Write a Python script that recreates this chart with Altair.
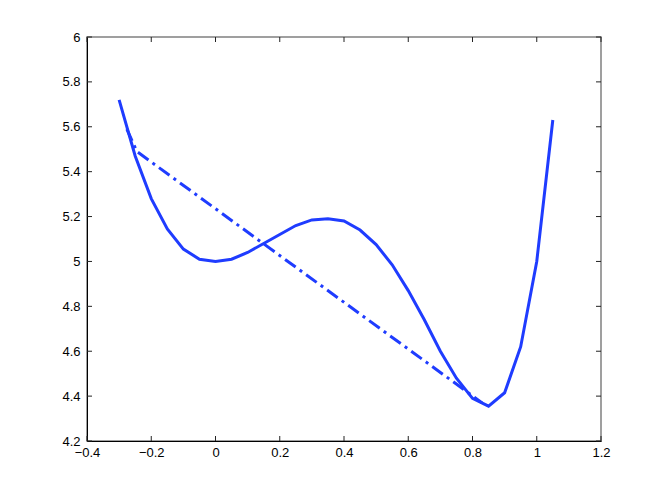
import altair as alt
import pandas as pd

# Solid curve
curve_x = [-0.3, -0.25, -0.2, -0.15, -0.1, -0.05, 0.0, 0.05, 0.1, 0.15, 0.2, 0.25, 0.3, 0.35,
           0.4, 0.45, 0.5, 0.55, 0.6, 0.65, 0.7, 0.75, 0.8, 0.85, 0.9, 0.95, 1.0, 1.05]
curve_y = [5.72, 5.47, 5.28, 5.145, 5.055, 5.01, 5.0, 5.01, 5.04, 5.08, 5.12, 5.16, 5.185, 5.19,
           5.18, 5.14, 5.075, 4.985, 4.87, 4.74, 4.6, 4.48, 4.39, 4.355, 4.415, 4.62, 5.0, 5.63]

# Dash-dot line
dash_x = [-0.276, -0.245, 0.83]
dash_y = [5.59, 5.49, 4.37]

x_ticks = [-0.4, -0.2, 0, 0.2, 0.4, 0.6, 0.8, 1.0, 1.2]
y_ticks = [4.2, 4.4, 4.6, 4.8, 5.0, 5.2, 5.4, 5.6, 5.8, 6.0]

W, H = 514, 404
BLUE = "#1f3cff"

xscale = alt.Scale(domain=[-0.4, 1.2], nice=False, zero=False)
yscale = alt.Scale(domain=[4.2, 6.0], nice=False, zero=False)

df_curve = pd.DataFrame({"x": curve_x, "y": curve_y, "o": range(len(curve_x))})
df_dash = pd.DataFrame({"x": dash_x, "y": dash_y, "o": range(len(dash_x))})
df_xt = pd.DataFrame({"v": x_ticks})
df_yt = pd.DataFrame({"v": y_ticks})

axis_common = dict(
    ticks=False, tickSize=0, grid=False, domainColor="black", domainWidth=1,
    labelColor="black", labelFont="Liberation Sans", labelFontSize=13,
    title=None, format="~g",
    labelExpr="replace(datum.label, '-', '\u2212')",
)

curve = alt.Chart(df_curve).mark_line(color=BLUE, strokeWidth=3, clip=True).encode(
    x=alt.X("x:Q", scale=xscale,
            axis=alt.Axis(values=x_ticks, labelPadding=5, labelFlush=False, **axis_common)),
    y=alt.Y("y:Q", scale=yscale,
            axis=alt.Axis(values=y_ticks, labelPadding=7, labelFlush=False, **axis_common)),
    order="o:Q",
)

dash = alt.Chart(df_dash).mark_line(color=BLUE, strokeWidth=3, strokeDash=[13, 5, 3, 5]).encode(
    x=alt.X("x:Q", scale=xscale),
    y=alt.Y("y:Q", scale=yscale),
    order="o:Q",
)

tick_color = "#222222"
xt_bottom = alt.Chart(df_xt).mark_rule(color=tick_color, strokeWidth=1).encode(
    x=alt.X("v:Q", scale=xscale), y=alt.value(H), y2=alt.value(H - 5))
xt_top = alt.Chart(df_xt).mark_rule(color=tick_color, strokeWidth=1).encode(
    x=alt.X("v:Q", scale=xscale), y=alt.value(0), y2=alt.value(5))
yt_left = alt.Chart(df_yt).mark_rule(color=tick_color, strokeWidth=1).encode(
    y=alt.Y("v:Q", scale=yscale), x=alt.value(0), x2=alt.value(5))
yt_right = alt.Chart(df_yt).mark_rule(color=tick_color, strokeWidth=1).encode(
    y=alt.Y("v:Q", scale=yscale), x=alt.value(W), x2=alt.value(W - 5))

chart = alt.layer(curve, dash, xt_bottom, xt_top, yt_left, yt_right).properties(
    width=W, height=H,
    autosize=alt.AutoSizeParams(type="none"),
    padding={"left": 79, "top": 29, "right": 55, "bottom": 45},
    background="white",
).configure_view(stroke="#808080", strokeWidth=1.5)

chart.save("out.html", embed_options={"renderer": "svg", "actions": False})
